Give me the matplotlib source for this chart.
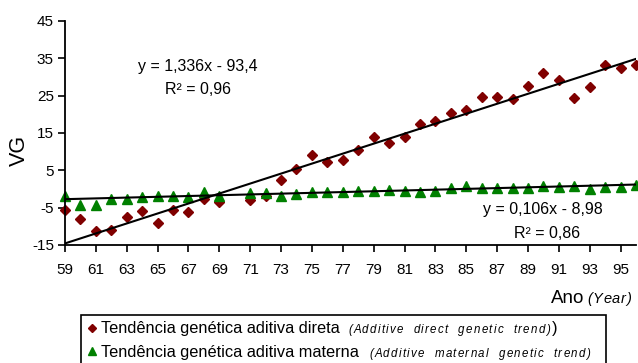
import matplotlib
matplotlib.use("Agg")
import matplotlib.pyplot as plt
from matplotlib.lines import Line2D
from matplotlib.patches import Rectangle
import numpy as np

plt.rcParams['font.family'] = ['Liberation Sans', 'DejaVu Sans']

# ---- data ----
years = [59, 60, 61, 62, 63, 64, 65, 66, 67, 68, 69, 71, 72, 73, 74, 75, 76, 77,
         78, 79, 80, 81, 82, 83, 84, 85, 86, 87, 88, 89, 90, 91, 92, 93, 94, 95, 96]
direct = [-5.7, -8.1, -11.2, -10.9, -7.5, -6.0, -9.2, -5.5, -6.1, -2.8, -3.5, -3.0,
          -1.9, 2.3, 5.4, 9.2, 7.1, 7.9, 10.5, 13.9, 12.3, 13.9, 17.4, 18.2, 20.4,
          21.1, 24.7, 24.7, 24.1, 27.6, 31.1, 29.3, 24.5, 27.2, 33.3, 32.5, 33.3]
maternal = [-1.9, -4.2, -4.2, -2.8, -2.7, -2.2, -1.9, -1.9, -2.2, -0.9, -1.9, -1.0,
            -1.1, -1.9, -1.4, -0.8, -0.8, -0.8, -0.5, -0.5, -0.2, -0.6, -0.9, -0.6,
            0.3, 0.7, 0.3, 0.3, 0.3, 0.2, 0.7, 0.5, 0.8, 0.0, 0.5, 0.5, 1.0]
direct_fit = (1.336, -93.4)
maternal_fit = (0.106, -8.98)
xticks = list(range(59, 96, 2))
yticks = [-15, -5, 5, 15, 25, 35, 45]

W, H = 638, 363
fig = plt.figure(figsize=(W / 100, H / 100), dpi=100)
ax = fig.add_axes([65 / W, 1 - 245 / H, 571 / W, 224 / H])

xs = np.array([59, 96])
ax.plot(xs, direct_fit[0] * xs + direct_fit[1], color='black', lw=1.5, zorder=3)
ax.plot(xs, maternal_fit[0] * xs + maternal_fit[1], color='black', lw=1.5, zorder=3)
ax.plot(years, direct, linestyle='none', marker='D', color='#800000', ms=5.5, zorder=2, clip_on=False)
ax.plot(years, maternal, linestyle='none', marker='^', color='#008000', ms=7, zorder=2, clip_on=False)

ax.set_xlim(59, 96)
ax.set_ylim(-15, 45)
ax.set_xticks(xticks)
ax.set_yticks(yticks)
ax.set_yticklabels([str(v) for v in yticks])
ax.tick_params(axis='both', labelsize=11, direction='out', length=5, width=1.2, color='black')
ax.tick_params(axis='x', pad=8)
ax.tick_params(axis='y', pad=3)
for s in ['top', 'right']:
    ax.spines[s].set_visible(False)
for s in ['left', 'bottom']:
    ax.spines[s].set_linewidth(1.3)


def ftext(x, y, s, **kw):
    return fig.text(x / W, 1 - y / H, s, **kw)


def spaced(x, y_base, s, size, spacing_px, style='italic'):
    """Draw string char by char with extra letter spacing; returns last artist."""
    yf = 1 - y_base / H
    prev = None
    extra = 0.0
    sp_pt = spacing_px * 72 / 100
    for ch in s:
        if ch == ' ':
            extra += size * 0.278 + sp_pt
            continue
        if prev is None:
            prev = fig.text(x / W, yf, ch, fontsize=size, style=style, ha='left', va='baseline')
        else:
            prev = fig.text(0, 0, '', fontsize=size)  # placeholder removed below
            prev.remove()
            prev = ax.annotate(ch, xy=(1, yf), xycoords=(last, 'figure fraction'),
                               xytext=(sp_pt + extra, 0), textcoords='offset points',
                               fontsize=size, style=style, ha='left', va='baseline',
                               annotation_clip=False)
        last = prev
        extra = 0.0
    return last


ftext(19, 150, 'VG', fontsize=15.5, rotation=90, ha='center', va='center')

ftext(198, 66, 'y = 1,336x - 93,4', fontsize=11.5, ha='center', va='center')
ftext(198, 90, 'R² = 0,96', fontsize=11.5, ha='center', va='center')
ftext(543, 210, 'y = 0,106x - 8,98', fontsize=11.5, ha='center', va='center')
ftext(547, 233, 'R² = 0,86', fontsize=11.5, ha='center', va='center')

# x-axis title
ftext(584, 303, 'Ano', fontsize=13.5, ha='right', va='baseline')
spaced(587, 303, '(Year)', 10.5, 0.8)

# legend box
fig.add_artist(Rectangle((81 / W, 1 - 372 / H), (606 - 81) / W, (372 - 315) / H,
                         transform=fig.transFigure, fill=False, edgecolor='black', lw=1.2))
fig.add_artist(Line2D([92 / W], [1 - 328 / H], marker='D', color='#800000', ms=4.5,
                      linestyle='none', transform=fig.transFigure))
fig.add_artist(Line2D([92 / W], [1 - 351 / H], marker='^', color='#008000', ms=6,
                      linestyle='none', transform=fig.transFigure))

ftext(101, 333, 'Tendência genética aditiva direta', fontsize=11.8, ha='left', va='baseline')
it1 = spaced(348, 333, '(Additive  direct  genetic  trend)', 8.3, 1.3)
ax.annotate(')', xy=(1, 1 - 333 / H), xycoords=(it1, 'figure fraction'), xytext=(1, 0),
            textcoords='offset points', fontsize=11.8, ha='left', va='baseline', annotation_clip=False)
ftext(101, 357, 'Tendência genética aditiva materna', fontsize=11.8, ha='left', va='baseline')
spaced(369, 357, '(Additive  maternal  genetic  trend)', 8.3, 1.3)

fig.savefig('out.png', dpi=100)
